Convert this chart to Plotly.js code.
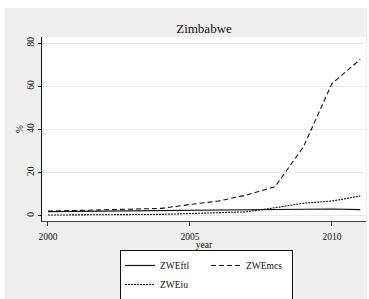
<!DOCTYPE html>
<html>
<head>
<meta charset="utf-8">
<script src="https://cdn.plot.ly/plotly-3.0.1.min.js"></script>
<style>html,body{margin:0;padding:0;background:#fff;}#chart{width:369px;height:299px;}</style>
</head>
<body>
<div id="chart"></div>
<script>
const years = [2000, 2001, 2002, 2003, 2004, 2005, 2006, 2007, 2008, 2009, 2010, 2011];
const ZWEftl = [1.9, 2.0, 2.1, 2.2, 2.4, 2.5, 2.6, 2.6, 2.7, 3.0, 3.1, 2.8];
const ZWEmcs = [2.1, 2.4, 3.0, 3.1, 3.4, 5.2, 6.8, 9.6, 13.5, 32.0, 61.3, 72.5];
const ZWEiu  = [0.3, 0.35, 0.4, 0.45, 0.6, 1.0, 1.3, 1.8, 3.7, 5.8, 6.8, 9.1];
const xTicks = [2000, 2005, 2010];
const yTicks = [0, 20, 40, 60, 80];

const serif = 'Liberation Serif';
const W = 369, H = 299, ML = 42, MR = 3, MT = 37, MB = 78;
const PW = W - ML - MR, PH = H - MT - MB;
const px = v => (v - ML) / PW;
const py = v => (H - MB - v) / PH;

const traces = [
  {x: years, y: ZWEftl, name: 'ZWEftl', legendgroup: 'a', mode: 'lines',
   line: {color: '#111', width: 1.2}},
  {x: years, y: ZWEmcs, name: 'ZWEmcs', legendgroup: 'b', mode: 'lines',
   line: {color: '#111', width: 1.1, dash: '5px,3px'}},
  {x: years, y: ZWEiu, name: 'ZWEiu', legendgroup: 'a', mode: 'lines',
   line: {color: '#111', width: 1.1, dash: '2px,1px'}}
];

const layout = {
  width: W, height: H,
  margin: {l: ML, r: MR, t: MT, b: MB, pad: 0},
  paper_bgcolor: '#efefef',
  plot_bgcolor: '#ffffff',
  font: {family: serif, size: 9.5, color: '#111'},
  title: {text: 'Zimbabwe', font: {family: serif, size: 13, color: '#111'},
          x: 0.5, xref: 'paper', xanchor: 'center', y: 1 - 28 / H, yref: 'container', yanchor: 'middle'},
  xaxis: {
    range: [1999.79, 2011.2], tickvals: xTicks, ticktext: xTicks.map(String),
    ticks: 'outside', ticklen: 4, tickcolor: '#333', tickwidth: 1, ticklabelstandoff: 3,
    showline: true, linecolor: '#444', linewidth: 1, showgrid: false, zeroline: false,
    tickfont: {family: serif, size: 9.5, color: '#111'},
    title: {text: 'year', font: {family: serif, size: 9.5, color: '#111'}, standoff: 0}
  },
  yaxis: {
    range: [-2.46, 82.9], tickvals: yTicks, ticktext: yTicks.map(String), tickangle: -90,
    ticks: 'outside', ticklen: 3, tickcolor: '#111', tickwidth: 1,
    showline: true, linecolor: '#111', linewidth: 1,
    showgrid: true, gridcolor: '#e8e8e8', gridwidth: 1, zeroline: false,
    tickfont: {family: serif, size: 9.5, color: '#111'},
    title: {text: '%', font: {family: serif, size: 9.5, color: '#111'}, standoff: 0}
  },
  showlegend: true,
  legend: {
    orientation: 'h', traceorder: 'grouped', tracegroupgap: 0,
    xref: 'container', yref: 'container',
    x: 120 / W, xanchor: 'left', y: 1 - 250 / H, yanchor: 'top',
    bgcolor: '#ffffff', bordercolor: '#111', borderwidth: 1,
    font: {family: serif, size: 9.5, color: '#111'}, itemwidth: 30,
    entrywidth: 41, entrywidthmode: 'pixels'
  },
  shapes: [
    {type: 'rect', xref: 'paper', yref: 'paper', x0: px(0), x1: px(5), y0: py(H), y1: py(0),
     fillcolor: '#ffffff', line: {width: 0}, layer: 'below'},
    {type: 'rect', xref: 'paper', yref: 'paper', x0: px(0), x1: px(W), y0: py(8), y1: py(0),
     fillcolor: '#ffffff', line: {width: 0}, layer: 'below'},
    {type: 'rect', xref: 'paper', yref: 'paper', x0: px(367), x1: px(W), y0: py(H), y1: py(0),
     fillcolor: '#ffffff', line: {width: 0}, layer: 'below'}
  ]
};

Plotly.newPlot('chart', traces, layout, {displayModeBar: false, staticPlot: true});
</script>
</body>
</html>
